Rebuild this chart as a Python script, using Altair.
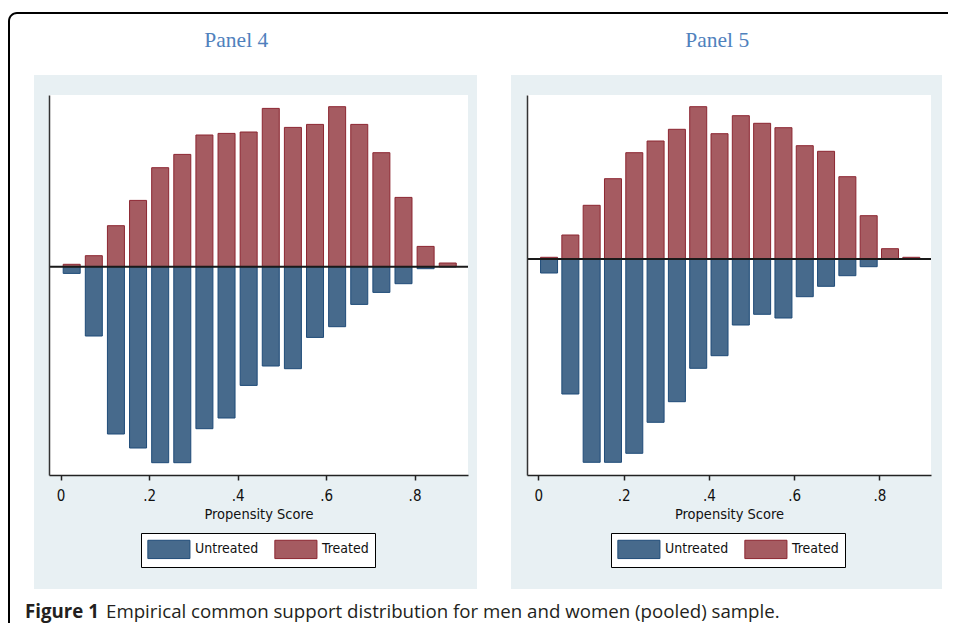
import altair as alt
import pandas as pd

# ---------------- data ----------------
bin_centers = [0.025, 0.075, 0.125, 0.175, 0.225, 0.275, 0.325, 0.375, 0.425,
               0.475, 0.525, 0.575, 0.625, 0.675, 0.725, 0.775, 0.825, 0.875]
groups = ["Untreated", "Treated"]

p4_treated = [2.4, 11, 41, 66.3, 99, 112.3, 131.7, 133.3, 134.7,
              158.3, 139.3, 142.3, 160, 142.3, 114, 69.3, 20.3, 3.7]
p4_untreated = [6.7, 69.3, 167.3, 181.3, 196, 196, 162, 151.3, 118.7,
                99.3, 102, 70.7, 60, 37.7, 25.7, 17, 2, 0]

p5_treated = [1.7, 24, 53.7, 80.3, 106.3, 118, 129.7, 152.3, 125.3,
              143.3, 135.7, 131.3, 113.3, 107.7, 82.3, 43.3, 10.3, 1.7]
p5_untreated = [14, 135, 203.3, 203.3, 194.3, 163.3, 142.7, 109.3, 96.7,
                66, 55.3, 59, 37.7, 27.3, 16.7, 7.7, 0, 0]

x_ticks = [0, 0.2, 0.4, 0.6, 0.8]
panel_titles = ["Panel 4", "Panel 5"]
x_title = "Propensity Score"
caption_bold = "Figure 1"
caption_text = "Empirical common support distribution for men and women (pooled) sample."

# ---------------- style ----------------
FILL = ["#476a8c", "#a55b61"]
STROKE = ["#1f4b78", "#8c2631"]
BG = "#e8f0f3"
NARROW = "Liberation Sans Narrow, Arial Narrow, DejaVu Sans Condensed, sans-serif"
SERIF = "Liberation Serif, Times New Roman, serif"
CAPFONT = "Open Sans, Noto Sans, sans-serif"

W4, W5, H = 419, 404, 380
XDOM = [-0.015, 0.9095]


def long_table(treated, untreated):
    rows = []
    for c, t, u in zip(bin_centers, treated, untreated):
        rows.append({"score": c, "group": "Treated", "value": t})
        rows.append({"score": c, "group": "Untreated", "value": u})
    return pd.DataFrame(rows)


one = alt.Data(values=[{"k": 1}])


def rect(x, x2, y, y2, color, **kw):
    return alt.Chart(one).mark_rect(color=color, **kw).encode(
        x=alt.value(x), x2=alt.value(x2), y=alt.value(y), y2=alt.value(y2))


def text(t, x, y, **kw):
    return alt.Chart(one).mark_text(text=t, **kw).encode(x=alt.value(x), y=alt.value(y))


def panel(df, width, ydom, title, title_x, legend_x, bg_x, bg_x2, back=(), front=()):
    xs = alt.Scale(domain=XDOM, nice=False, zero=False)
    ys = alt.Scale(domain=ydom, nice=False, zero=False)
    xaxis = alt.Axis(
        values=x_ticks,
        labelExpr="datum.value == 0 ? '0' : replace(format(datum.value, '.1f'), '0.', '.')",
        grid=False, domainColor="#222", domainWidth=1.5, tickColor="#222",
        tickSize=5, tickWidth=1.5, labelFont=NARROW, labelFontSize=15,
        labelColor="#111", labelPadding=8, labelFlush=False, labelOverlap=False,
        title=x_title, titleFont=NARROW, titleFontSize=14.5, titleFontWeight="normal",
        titleColor="#111", titlePadding=4, zindex=1)
    yaxis = alt.Axis(labels=False, ticks=False, grid=False, title="",
                     domainColor="#333", domainWidth=1.5, zindex=1)
    legend = alt.Legend(
        orient="none", legendX=legend_x, legendY=438, direction="horizontal",
        title=None, strokeColor="black", fillColor="white", padding=6,
        symbolType="M-1,-1H3.6V1H-1Z", symbolSize=335, symbolStrokeWidth=1,
        symbolOpacity=1, labelFont=NARROW, labelFontSize=14, labelColor="#111",
        labelOffset=28, columnPadding=13, labelLimit=200)

    bars = alt.Chart(df).transform_calculate(
        signed="datum.group == 'Untreated' ? -datum.value : datum.value"
    ).mark_bar(size=17, strokeWidth=1, opacity=1).encode(
        x=alt.X("score:Q", scale=xs, axis=xaxis),
        y=alt.Y("signed:Q", scale=ys, axis=yaxis, stack=None),
        y2=alt.datum(0),
        fill=alt.Fill("group:N", scale=alt.Scale(domain=groups, range=FILL), legend=legend),
        stroke=alt.Stroke("group:N", scale=alt.Scale(domain=groups, range=STROKE), legend=legend),
    )
    zero = alt.Chart(one).mark_rule(color="#1a1a1a", strokeWidth=2).encode(
        y=alt.Y(datum=0, scale=ys, axis=yaxis), x=alt.value(0), x2=alt.value(width))

    layers = list(back) + [
        rect(bg_x, bg_x2, -20, 494, BG),
        rect(0, width, 0, H, "white"),
        bars,
        zero,
        text(title, title_x, -48, font=SERIF, fontSize=21.5, color="#4f81bd",
             align="center", baseline="alphabetic"),
    ] + list(front)
    return alt.layer(*layers).properties(width=width, height=H)


frame = [
    rect(-41, 899, -83, 528, "black", cornerRadiusTopLeft=9),
    rect(-39, 899, -81, 528, "white", cornerRadiusTopLeft=7),
]
caption = [
    text(caption_bold, -24, 523, font=CAPFONT, fontSize=18.7, fontWeight="bold",
         color="#231f20", align="left", baseline="alphabetic"),
    text(caption_text, 57, 523, font=CAPFONT, fontSize=18.7, color="#231f20",
         align="left", baseline="alphabetic"),
]

p4 = panel(long_table(p4_treated, p4_untreated), W4, [-208.3, 171.7],
           panel_titles[0], 187.3, 92, -15, 428, back=frame, front=caption)
p5 = panel(long_table(p5_treated, p5_untreated), W5, [-216, 164],
           panel_titles[1], 190.2, 84, -16, 415)

chart = alt.hconcat(p4, p5, spacing=59, bounds="flush").resolve_scale(
    x="independent", y="independent", fill="independent", stroke="independent"
).resolve_legend(fill="independent", stroke="independent").properties(
    padding={"left": 0, "top": 4, "right": 0, "bottom": 0}
).configure_view(strokeWidth=0)

chart.save("out.html", embed_options={"renderer": "svg", "actions": False})
